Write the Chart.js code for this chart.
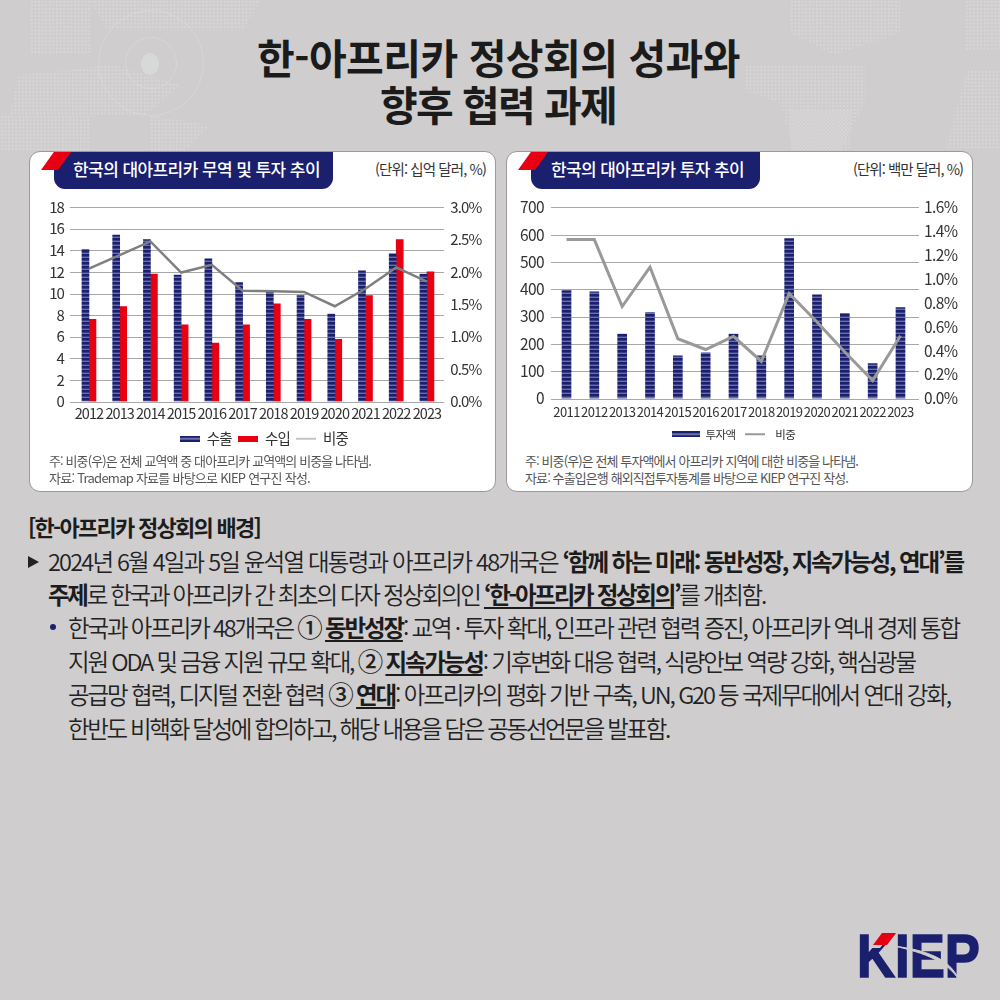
<!DOCTYPE html>
<html lang="ko"><head><meta charset="utf-8">
<script src="https://cdn.jsdelivr.net/npm/chart.js@4"></script>
<style>
html,body{margin:0;padding:0;background:#cfcdce;}
#page{position:relative;width:1000px;height:1000px;overflow:hidden;background:#cfcdce;font-family:"Noto Sans CJK KR","Noto Sans",sans-serif;color:#222;}
.map{position:absolute;background-image:radial-gradient(circle,rgba(255,255,255,.2) 1.2px,transparent 1.35px);background-size:3.6px 3.6px;}
.ring{position:absolute;border:1px solid rgba(225,240,232,.3);border-radius:50%;}
.t{position:absolute;white-space:nowrap;}
.card{position:absolute;top:151px;height:339px;width:465px;background:#fff;border:1px solid #9a9a9a;border-radius:11px;}
.tab{position:absolute;top:152px;height:37px;background:#1a1f6e;border-radius:0 0 11px 11px;}
.red{position:absolute;top:152px;width:30px;height:18px;background:#e60012;clip-path:polygon(43% 0,100% 0,57% 100%,0 100%);}
canvas{position:absolute;display:block;}
b{font-weight:700;color:#1c1c1c;}
u{text-decoration-thickness:2px;text-underline-offset:3px;text-decoration-skip-ink:none;}
.cn{font-size:25.5px;font-weight:500;line-height:0;}
</style></head><body>
<div id="page">
<div class="map" style="left:30px;top:0;width:60px;height:55px"></div>
<div class="map" style="left:90px;top:0;width:170px;height:30px;clip-path:polygon(0 0,100% 0,90% 100%,10% 100%)"></div>
<div class="map" style="left:10px;top:65px;width:170px;height:50px;clip-path:polygon(5% 20%,60% 0,100% 40%,80% 100%,0 100%)"></div>
<div class="map" style="left:0;top:115px;width:90px;height:35px"></div>
<div class="map" style="left:150px;top:115px;width:60px;height:35px;clip-path:polygon(0 0,100% 30%,60% 100%,0 100%)"></div>
<div class="map" style="left:790px;top:0;width:110px;height:55px;clip-path:polygon(0 0,100% 0,100% 60%,40% 100%,0 60%)"></div>
<div class="map" style="left:965px;top:0;width:35px;height:50px"></div>
<div class="map" style="left:745px;top:65px;width:120px;height:85px;clip-path:polygon(0 0,100% 0,100% 45%,80% 100%,40% 100%,30% 45%,0 30%)"></div>
<div class="map" style="left:790px;top:110px;width:60px;height:40px"></div>
<div class="map" style="left:945px;top:70px;width:55px;height:80px;clip-path:polygon(40% 0,100% 0,100% 100%,0 100%,20% 50%)"></div>
<div class="ring" style="left:125px;top:37px;width:50px;height:50px"></div>
<div class="ring" style="left:98px;top:10px;width:104px;height:104px"></div>
<div style="position:absolute;left:141px;top:53px;width:18px;height:22px;border-radius:50%;background:rgba(225,240,232,.35)"></div>

<div class="t fit" data-x="257" data-r="740" data-y="56" style="font-size:41px;font-weight:700;color:#1b1b1b">한-아프리카 정상회의 성과와</div>
<div class="t fit" data-x="380" data-r="616" data-y="103" style="font-size:41px;font-weight:700;color:#1b1b1b">향후 협력 과제</div>

<div class="card" style="left:29px"></div>
<div class="card" style="left:506px"></div>
<div class="tab" style="left:54px;width:279px"></div><div class="red" style="left:41px"></div>
<div class="tab" style="left:531px;width:229px"></div><div class="red" style="left:518px"></div>
<div class="t fit" data-x="73" data-r="320" data-y="168" style="font-size:17px;font-weight:500;color:#fff">한국의 대아프리카 무역 및 투자 추이</div>
<div class="t fit" data-x="551" data-r="744" data-y="168" style="font-size:17px;font-weight:500;color:#fff">한국의 대아프리카 투자 추이</div>
<div class="t fit" data-x="375" data-r="486" data-y="168" style="font-size:14.5px;color:#333">(단위: 십억 달러, %)</div>
<div class="t fit" data-x="853" data-r="963" data-y="168" style="font-size:14.5px;color:#333">(단위: 백만 달러, %)</div>

<canvas id="c1" style="left:29px;top:190px"></canvas>
<canvas id="c2" style="left:506px;top:190px"></canvas>

<div class="t fit" data-x="49" data-r="371" data-y="460" style="font-size:13px;color:#555">주: 비중(우)은 전체 교역액 중 대아프리카 교역액의 비중을 나타냄.</div>
<div class="t fit" data-x="49" data-r="310" data-y="477" style="font-size:13px;color:#555">자료: Trademap 자료를 바탕으로 KIEP 연구진 작성.</div>
<div class="t fit" data-x="525" data-r="858" data-y="460" style="font-size:13px;color:#555">주: 비중(우)은 전체 투자액에서 아프리카 지역에 대한 비중을 나타냄.</div>
<div class="t fit" data-x="525" data-r="848" data-y="477" style="font-size:13px;color:#555">자료: 수출입은행 해외직접투자통계를 바탕으로 KIEP 연구진 작성.</div>

<div class="t fit" data-x="28" data-r="260" data-y="526" style="font-size:22px;font-weight:700;color:#1c1c1c">[한-아프리카 정상회의 배경]</div>
<div class="t" style="left:28px;top:556px;width:11px;height:12px;background:#222;clip-path:polygon(0 0,100% 50%,0 100%)"></div>
<div class="t fit" data-x="48" data-r="963" data-y="561" data-bd="-0.33" style="font-size:23.5px;font-weight:350">2024년 6월 4일과 5일 윤석열 대통령과 아프리카 48개국은 <b>‘함께 하는 미래: 동반성장, 지속가능성, 연대’를</b></div>
<div class="t fit" data-x="48" data-r="765" data-y="594" style="font-size:23.5px;font-weight:350"><b>주제</b>로 한국과 아프리카 간 최초의 다자 정상회의인 <b><u>‘한-아프리카 정상회의</u>’</b>를 개최함.</div>
<div class="t" style="left:50px;top:624px;width:6px;height:6px;border-radius:50%;background:#1a1f6e"></div>
<div class="t fit" data-x="68" data-r="959" data-y="627" style="font-size:23.5px;font-weight:350">한국과 아프리카 48개국은 <span class="cn">①</span> <b><u>동반성장</u></b>: 교역 · 투자 확대, 인프라 관련 협력 증진, 아프리카 역내 경제 통합</div>
<div class="t fit" data-x="68" data-r="915" data-y="661" style="font-size:23.5px;font-weight:350">지원 ODA 및 금융 지원 규모 확대, <span class="cn">②</span> <b><u>지속가능성</u></b>: 기후변화 대응 협력, 식량안보 역량 강화, 핵심광물</div>
<div class="t fit" data-x="68" data-r="950" data-y="694" style="font-size:23.5px;font-weight:350">공급망 협력, 디지털 전환 협력 <span class="cn">③</span> <b><u>연대</u></b>: 아프리카의 평화 기반 구축, UN, G20 등 국제무대에서 연대 강화,</div>
<div class="t fit" data-x="68" data-r="669" data-y="728" style="font-size:23.5px;font-weight:350">한반도 비핵화 달성에 합의하고, 해당 내용을 담은 공동선언문을 발표함.</div>

<svg class="t" style="left:850px;top:925px" width="140" height="65" viewBox="850 925 140 65">
<text x="857" y="977" font-family="Liberation Sans" font-weight="700" font-size="62" textLength="123" lengthAdjust="spacingAndGlyphs" fill="#1a1f6e" stroke="#1a1f6e" stroke-width="1.6">KIEP</text>
<polygon points="869,930 895,930 880,948 869,948" fill="#cfcdce"/>
<polygon points="873,945 882,933 896,933 887,945" fill="#e60012"/>
<path d="M894,946 C925,950 950,958 959,980 C948,962 925,953 894,946Z" fill="#cfcdce" stroke="#cfcdce" stroke-width="1"/>
</svg>
</div>

<script>
const years1 = ['2012','2013','2014','2015','2016','2017','2018','2019','2020','2021','2022','2023'];
const exports1 = [14.1,15.4,15.0,11.7,13.2,11.0,10.15,9.8,8.1,12.1,13.7,11.8];
const imports1 = [7.6,8.8,11.8,7.1,5.4,7.1,9.05,7.6,5.75,9.8,15.0,12.0];
const share1 = [2.05,2.26,2.47,1.99,2.11,1.71,1.70,1.69,1.47,1.74,2.07,1.85];
const years2 = ['2011','2012','2013','2014','2015','2016','2017','2018','2019','2020','2021','2022','2023'];
const invest2 = [395,391,236,315,156,167,236,156,586,380,312,128,333];
const share2 = [1.33,1.33,0.77,1.10,0.50,0.41,0.52,0.31,0.88,0.64,0.39,0.15,0.525];
const labels1 = ['수출','수입','비중'];
const labels2 = ['투자액','비중'];

const FONT = '"Noto Sans CJK KR","Noto Sans",sans-serif';
const NAVY='#1a1f6e', LIGHT='#6a6fa8', RED='#e60012';

document.querySelectorAll('.fit').forEach(el=>{
  el.style.left=el.dataset.x+'px';
  const h=el.getBoundingClientRect().height;
  el.style.top=(+el.dataset.y-h/2)+'px';
  const w=el.getBoundingClientRect().width;
  const n=el.textContent.length;
  const target=+el.dataset.r-+el.dataset.x;
  const bd=+(el.dataset.bd||0);
  const bolds=[...el.querySelectorAll('b')];
  const nb=bolds.reduce((s,b)=>s+b.textContent.length,0);
  const ls=(target-w-nb*bd)/n;
  el.style.letterSpacing=ls+'px';
  if(bd) bolds.forEach(b=>{b.style.letterSpacing=(ls+bd)+'px';});
});

function stripes(){
  const c=document.createElement('canvas');c.width=4;c.height=4;
  const x=c.getContext('2d');x.fillStyle=NAVY;x.fillRect(0,0,4,4);x.fillStyle=LIGHT;x.fillRect(0,2.6,4,1.4);
  return x.createPattern(c,'repeat');
}
function swatch(w,h,draw){
  const c=document.createElement('canvas');c.width=w;c.height=h;draw(c.getContext('2d'),w,h);return c;
}
const gridExt={id:'gridExt',beforeDatasetsDraw(ch,a,o){
  const y=ch.scales.y,x=ch.ctx;x.save();x.strokeStyle='#a8a8a8';x.lineWidth=1;
  y.ticks.forEach((t,i)=>{const p=Math.round(y.getPixelForTick(i))+.5;x.beginPath();x.moveTo(o.x0,p);x.lineTo(o.x1,p);x.stroke();});
  x.restore();
}};
const spacing={id:'spacing',beforeDraw(ch,a,o){ch.ctx.letterSpacing=o.ls;}};

function makeChart(id,cfg){
  const cv=document.getElementById(id);
  cv.style.width=cfg.w+'px';cv.style.height=cfg.h+'px';
  return new Chart(cv,{type:'bar',data:{labels:cfg.labels,datasets:cfg.datasets},plugins:[gridExt,spacing],options:{
    responsive:false,animation:false,devicePixelRatio:1,
    layout:{padding:{top:cfg.top,left:0,right:0,bottom:cfg.pb}},
    plugins:{tooltip:{enabled:false},spacing:{ls:cfg.ls},gridExt:{x0:cfg.g0,x1:cfg.g1},
      legend:{display:true,position:'bottom',labels:{usePointStyle:true,pointStyleWidth:cfg.psw,boxHeight:cfg.lf,padding:cfg.lp,color:'#333',font:{family:FONT,size:cfg.lf,lineHeight:1},sort:(a,b)=>a.datasetIndex-b.datasetIndex}}},
    scales:{
      x:{grid:{display:false,drawTicks:false},border:{display:false},ticks:{autoSkip:false,maxRotation:0,minRotation:0,padding:cfg.xp,color:'#333',font:{family:FONT,size:cfg.xf,lineHeight:1}},afterFit(s){s.height=cfg.xh;}},
      y:{position:'left',min:0,max:cfg.ymax,grid:{display:false,drawTicks:false},border:{display:false},ticks:{stepSize:cfg.ystep,padding:cfg.lpad,color:'#333',font:{family:FONT,size:cfg.yf,lineHeight:1}},afterFit(s){s.width=cfg.lw;}},
      y2:{position:'right',min:0,max:cfg.y2max,grid:{display:false,drawTicks:false},border:{display:false},ticks:{stepSize:cfg.y2step,padding:cfg.rpad,color:'#333',font:{family:FONT,size:cfg.yf,lineHeight:1},callback:v=>v.toFixed(1)+'%'},afterFit(s){s.width=cfg.rw;}}
    }
  }});
}
const lineSw=(w,col,lw)=>swatch(w,8,(x,W,H)=>{x.strokeStyle=col;x.lineWidth=lw;x.beginPath();x.moveTo(0,H/2);x.lineTo(W,H/2);x.stroke();});
const barSw=(w,col)=>swatch(w,6,(x,W,H)=>{x.fillStyle=col;x.fillRect(0,0,W,H);});
const navySw=w=>swatch(w,6,(x,W,H)=>{x.fillStyle=NAVY;x.fillRect(0,0,W,H);x.fillStyle=LIGHT;x.fillRect(0,2,W,2);});

makeChart('c1',{w:475,h:266,top:14.3,pb:0,labels:years1,g0:41,g1:415,ls:'-0.9px',
  xf:14.5,xp:5,xh:24,yf:15,lf:14.5,lp:6,psw:20,
  ymax:18,ystep:2,y2max:3,y2step:0.5,lw:44.6,rw:61.7,lpad:9.6,rpad:8,
  datasets:[
   {label:labels1[0],data:exports1,yAxisID:'y',backgroundColor:stripes(),barThickness:7,order:2,pointStyle:navySw(20)},
   {label:labels1[1],data:imports1,yAxisID:'y',backgroundColor:RED,barThickness:7,order:2,pointStyle:barSw(20,RED)},
   {type:'line',label:labels1[2],data:share1,yAxisID:'y2',borderColor:'#7f7f7f',borderWidth:2.5,pointRadius:0,tension:0,order:1,pointStyle:lineSw(20,'#8a8a8a',1)}
  ]});
makeChart('c2',{w:458,h:260,top:15.3,pb:0,labels:years2,g0:45,g1:413,ls:'-0.6px',
  xf:13,xp:7,xh:24,yf:15.5,lf:11.5,lp:6,psw:28,
  ymax:700,ystep:100,y2max:1.6,y2step:0.2,lw:46.6,rw:49.6,lpad:8.6,rpad:9.6,
  datasets:[
   {label:labels2[0],data:invest2,yAxisID:'y',backgroundColor:stripes(),barThickness:9,order:2,pointStyle:navySw(28)},
   {type:'line',label:labels2[1],data:share2,yAxisID:'y2',borderColor:'#999999',borderWidth:3,pointRadius:0,tension:0,order:1,pointStyle:lineSw(20,'#999999',2)}
  ]});
</script>
</body></html>
